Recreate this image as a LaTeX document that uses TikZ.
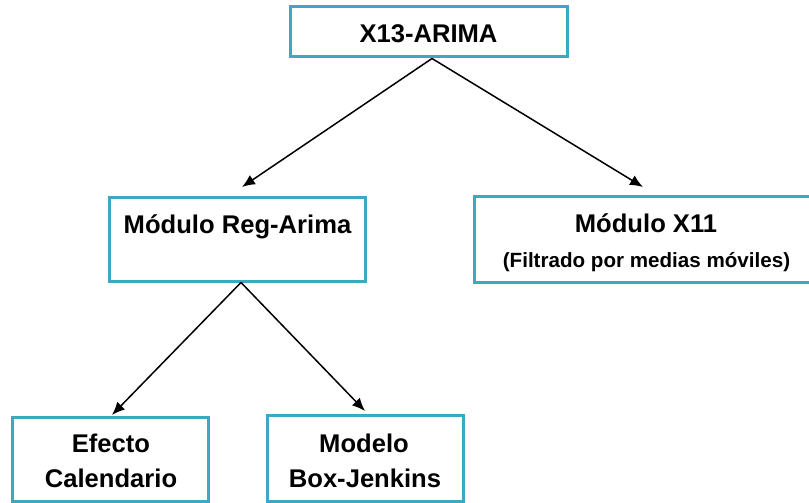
\documentclass[tikz,border=0pt]{standalone}
\usepackage{fontspec}
\setmainfont{Liberation Sans}
\usetikzlibrary{arrows.meta}
\definecolor{boxcol}{RGB}{60,168,196}
\tikzset{
  box/.style={draw=boxcol, line width=3pt, fill=white, inner sep=0pt},
  big/.style={font=\fontsize{25.6}{30}\selectfont\bfseries, inner sep=0pt, anchor=base},
  small/.style={font=\fontsize{20.6}{24}\selectfont\bfseries, inner sep=0pt, anchor=base},
  arr/.style={line width=1.5pt, -{Latex[length=13pt,width=11pt]}}
}
\begin{document}
\begin{tikzpicture}[x=1pt,y=-1pt]
\clip (0,0) rectangle (809,503);
\fill[white] (0,0) rectangle (809,503);
% boxes
\node[box, minimum width=277pt, minimum height=50pt] (top) at (429,32) {};
\node[box, minimum width=256pt, minimum height=84pt] (lm) at (237,239) {};
\node[box, minimum width=338pt, minimum height=86pt] (rm) at (643,239) {};
\node[box, minimum width=196pt, minimum height=84pt] (bl) at (110.5,459) {};
\node[box, minimum width=196pt, minimum height=86pt] (bm) at (365,458) {};
% texts
\node[big] (ttop) at (428.5,43) {X13-ARIMA};
\node[big] (tlm) at (237.5,233) {Módulo Reg-Arima};
\node[big] (trm) at (646,232.7) {Módulo X11};
\node[small] (trm2) at (646.5,267) {(Filtrado por medias móviles)};
\node[big] (tbl1) at (111,452) {Efecto};
\node[big] (tbl2) at (111,487) {Calendario};
\node[big] (tbm1) at (364,452) {Modelo};
\node[big] (tbm2) at (365,487) {Box-Jenkins};
% arrow ends
\coordinate (s1) at (432,58.5);
\coordinate (e1) at (242,187);
\coordinate (e2) at (643,187);
\coordinate (s2) at (241,282.5);
\coordinate (e3) at (112,415);
\coordinate (e4) at (365,411);
\draw[arr] (s1) -- (e1);
\draw[arr] (s1) -- (e2);
\draw[arr] (s2) -- (e3);
\draw[arr] (s2) -- (e4);
\end{tikzpicture}
\end{document}
